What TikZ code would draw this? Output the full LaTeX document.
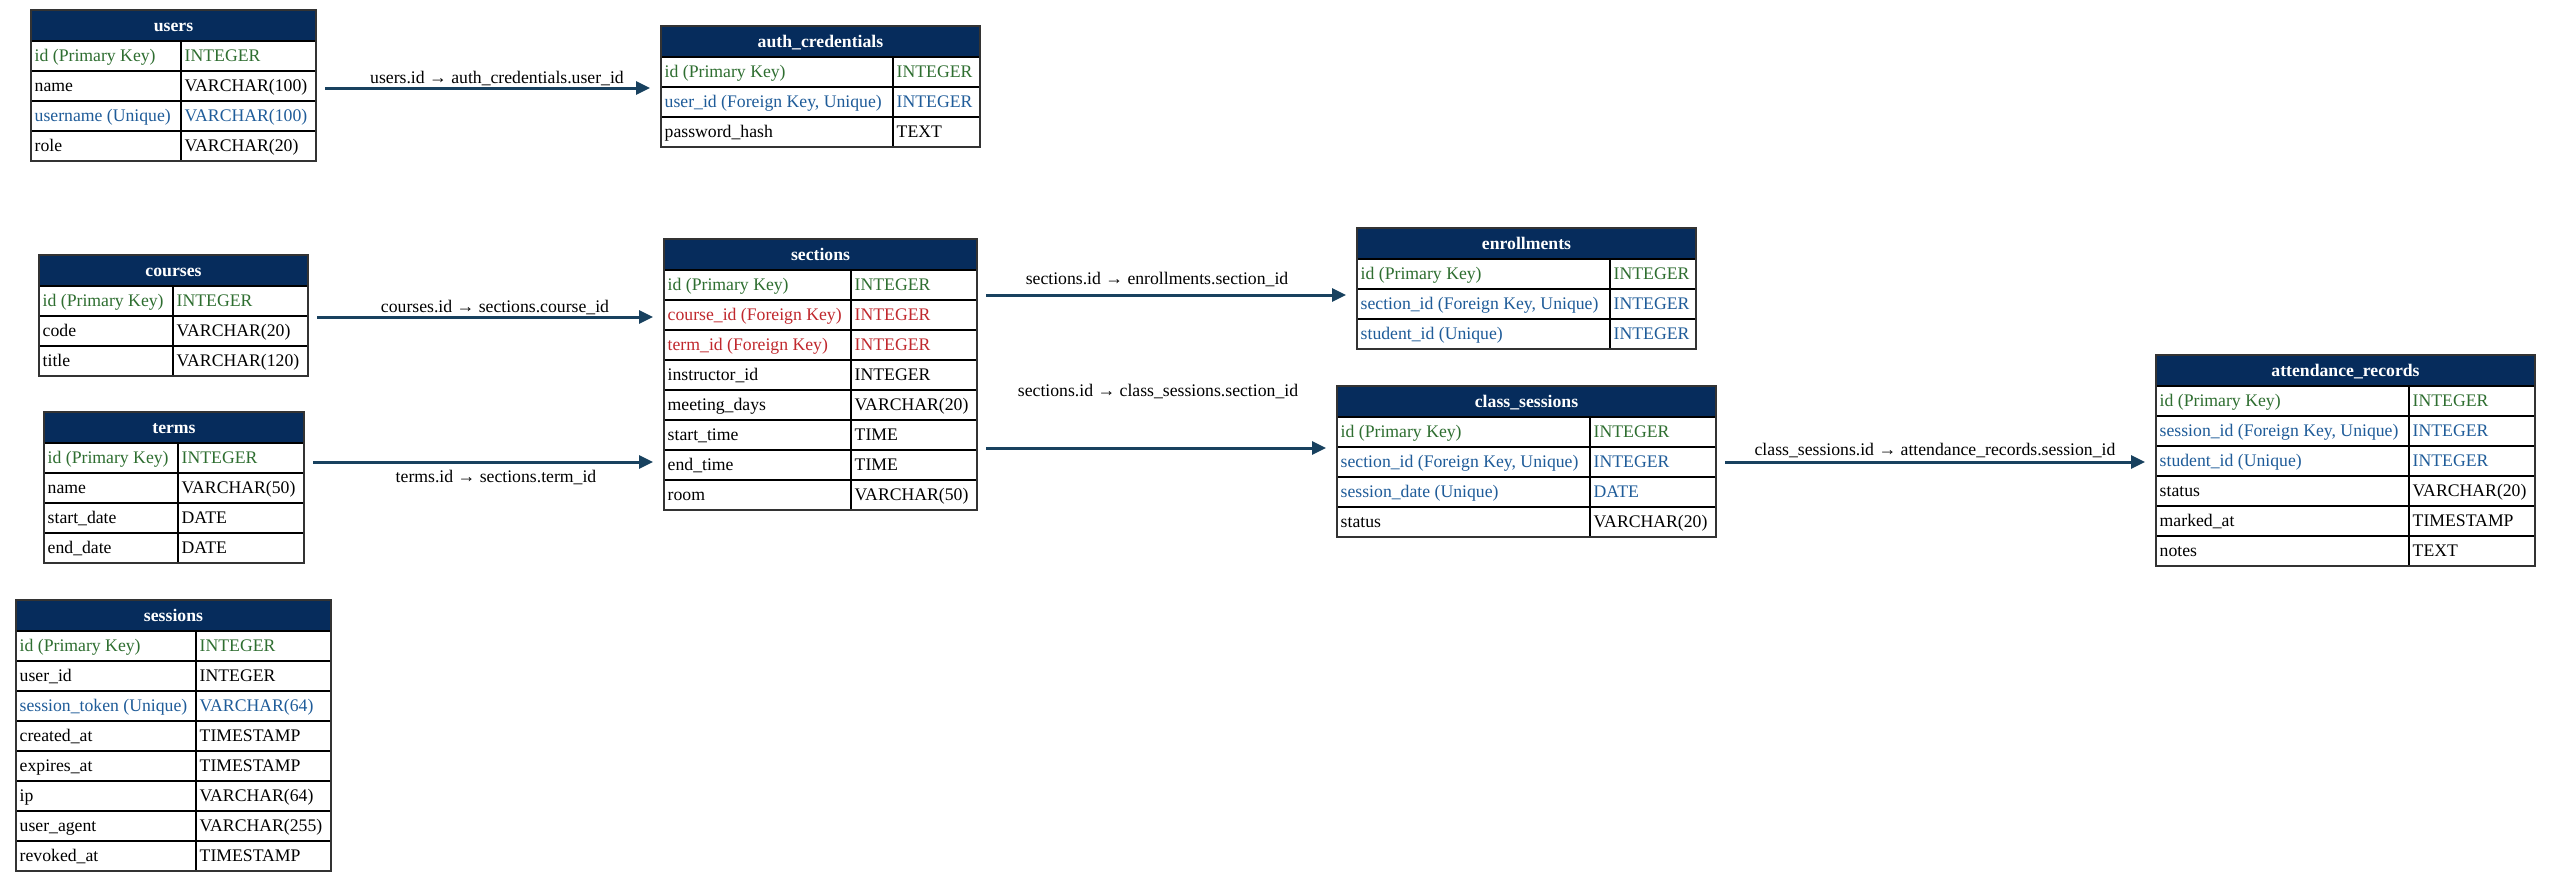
\documentclass[tikz,border=0pt]{standalone}
\usepackage{fontspec}
\setmainfont{Liberation Serif}
\usetikzlibrary{arrows.meta,fit}
\definecolor{hdr}{HTML}{062C5C}
\definecolor{pkc}{HTML}{2E6E30}
\definecolor{uqc}{HTML}{1F5C99}
\definecolor{fkc}{HTML}{C0282D}
\definecolor{arr}{HTML}{18415F}
\colorlet{nc}{black}
\newcommand{\dbfont}{\fontsize{17.7}{20}\selectfont}
\tikzset{
  tabfill/.style={fill=white, inner sep=0pt, outer sep=0pt},
  tabhead/.style={fill=hdr, draw=black, line width=1.4pt, inner sep=0pt, outer sep=0pt},
  headtext/.style={text=white, font={\dbfont\bfseries}, inner sep=0pt, text height=15pt, text depth=3.3pt, anchor=center},
  cellbox/.style={draw=black, line width=1.4pt, inner sep=0pt, outer sep=0pt},
  celltext/.style={anchor=west, inner sep=3.5pt, text height=15pt, text depth=3.3pt},
  tabframe/.style={draw=black!80, line width=2.2pt, inner sep=0pt, outer sep=0pt},
  fk/.style={draw=arr, line width=3pt, -{Triangle[length=14pt,width=13pt]}, shorten <=9pt, shorten >=11pt},
  elabel/.style={anchor=base, inner sep=0pt, text=black}
}
\newcommand{\dbtab}[8]{%
  \pgfmathsetmacro{\ybot}{#6+31+30*#7}%
  \node[tabfill, fit={(#3,#6) (#5,\ybot)}] (#1) {};
  \node[tabhead, fit={(#3,#6) (#5,#6+31)}] (#1-h) {};
  \node[headtext] (#1-ht) at (#1-h.center) {#2};
  \foreach \c/\f/\t [count=\i] in {#8} {
    \pgfmathsetmacro{\ya}{#6+31+30*(\i-1)}
    \pgfmathsetmacro{\yb}{\ya+30}
    \node[cellbox, fit={(#3,\ya) (#4,\yb)}] (#1-f\i) {};
    \node[celltext, text=\c] (#1-fx\i) at (#1-f\i.west) {\f};
    \node[cellbox, fit={(#4,\ya) (#5,\yb)}] (#1-t\i) {};
    \node[celltext, text=\c] (#1-tx\i) at (#1-t\i.west) {\t};
  }
  \node[tabframe, fit={(#3,#6) (#5,\ybot)}] (#1-frame) {};
}
\begin{document}
\begin{tikzpicture}[x=1pt,y=-1pt,font=\dbfont]
\useasboundingbox[fill=white] (0,0) rectangle (2551,883);

\dbtab{users}{users}{31}{181}{316}{10}{4}{
  pkc/id (Primary Key)/INTEGER,
  nc/name/VARCHAR(100),
  uqc/username (Unique)/VARCHAR(100),
  nc/role/VARCHAR(20)}

\dbtab{auth}{auth\_credentials}{661}{893}{980}{26}{3}{
  pkc/id (Primary Key)/INTEGER,
  uqc/{user\_id (Foreign Key, Unique)}/INTEGER,
  nc/password\_hash/TEXT}

\dbtab{courses}{courses}{39}{173}{308}{255}{3}{
  pkc/id (Primary Key)/INTEGER,
  nc/code/VARCHAR(20),
  nc/title/VARCHAR(120)}

\dbtab{terms}{terms}{44}{178}{304}{412}{4}{
  pkc/id (Primary Key)/INTEGER,
  nc/name/VARCHAR(50),
  nc/start\_date/DATE,
  nc/end\_date/DATE}

\dbtab{sessions}{sessions}{16}{196}{331}{600}{8}{
  pkc/id (Primary Key)/INTEGER,
  nc/user\_id/INTEGER,
  uqc/session\_token (Unique)/VARCHAR(64),
  nc/created\_at/TIMESTAMP,
  nc/expires\_at/TIMESTAMP,
  nc/ip/VARCHAR(64),
  nc/user\_agent/VARCHAR(255),
  nc/revoked\_at/TIMESTAMP}

\dbtab{sections}{sections}{664}{851}{977}{239}{8}{
  pkc/id (Primary Key)/INTEGER,
  fkc/course\_id (Foreign Key)/INTEGER,
  fkc/term\_id (Foreign Key)/INTEGER,
  nc/instructor\_id/INTEGER,
  nc/meeting\_days/VARCHAR(20),
  nc/start\_time/TIME,
  nc/end\_time/TIME,
  nc/room/VARCHAR(50)}

\dbtab{enroll}{enrollments}{1357}{1610}{1696}{228}{3}{
  pkc/id (Primary Key)/INTEGER,
  uqc/{section\_id (Foreign Key, Unique)}/INTEGER,
  uqc/student\_id (Unique)/INTEGER}

\dbtab{classes}{class\_sessions}{1337}{1590}{1716}{386}{4}{
  pkc/id (Primary Key)/INTEGER,
  uqc/{section\_id (Foreign Key, Unique)}/INTEGER,
  uqc/session\_date (Unique)/DATE,
  nc/status/VARCHAR(20)}

\dbtab{attend}{attendance\_records}{2156}{2409}{2535}{355}{6}{
  pkc/id (Primary Key)/INTEGER,
  uqc/{session\_id (Foreign Key, Unique)}/INTEGER,
  uqc/student\_id (Unique)/INTEGER,
  nc/status/VARCHAR(20),
  nc/marked\_at/TIMESTAMP,
  nc/notes/TEXT}

% connector levels
\coordinate (l1) at (0,88);
\coordinate (l2) at (0,317);
\coordinate (l3) at (0,462);
\coordinate (l4) at (0,295);
\coordinate (l5) at (0,448);
\coordinate (l6) at (0,462);

\draw[fk] (users.east |- l1) -- (auth.west |- l1);
\draw[fk] (courses.east |- l2) -- (sections.west |- l2);
\draw[fk] (terms.east |- l3) -- (sections.west |- l3);
\draw[fk] (sections.east |- l4) -- (enroll.west |- l4);
\draw[fk] (sections.east |- l5) -- (classes.west |- l5);
\draw[fk] (classes.east |- l6) -- (attend.west |- l6);

\node[elabel] (e1) at (497,84) {users.id → auth\_credentials.user\_id};
\node[elabel] (e2) at (495,312) {courses.id → sections.course\_id};
\node[elabel] (e3) at (496,482) {terms.id → sections.term\_id};
\node[elabel] (e4) at (1157,284) {sections.id → enrollments.section\_id};
\node[elabel] (e5) at (1158,396) {sections.id → class\_sessions.section\_id};
\node[elabel] (e6) at (1935,455) {class\_sessions.id → attendance\_records.session\_id};
\end{tikzpicture}
\end{document}
